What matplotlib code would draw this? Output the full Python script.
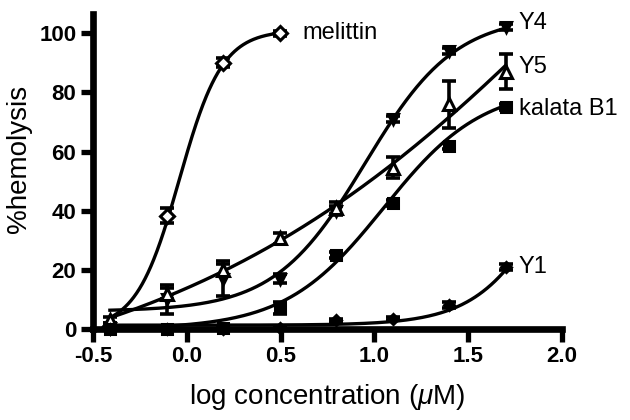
import numpy as np
import matplotlib
matplotlib.use("Agg")
import matplotlib.pyplot as plt

plt.rcParams['font.family'] = ['Liberation Sans', 'DejaVu Sans']
plt.rcParams['mathtext.fontset'] = 'custom'
plt.rcParams['mathtext.it'] = 'Liberation Sans:italic'
plt.rcParams['mathtext.rm'] = 'Liberation Sans'

# log concentration (uM)
x = [-0.41, -0.107, 0.194, 0.495, 0.796, 1.097, 1.398, 1.699]

melittin_x = [-0.41, -0.107, 0.194, 0.495]
melittin = [1, 38.3, 90, 100]
melittin_err = [1, 2.5, 1.5, 0.8]

Y4 = [0.5, 10, 17, 17, 40, 71, 94, 102]
Y4_err = [1, 5, 6, 1.5, 1.5, 1, 1, 1]

Y5 = [3, 12, 20, 30.6, 41, 54.5, 76, 87]
Y5_err = [1, 2, 2, 2, 2, 3.5, 8, 6]

kalata = [0, 0, 0.5, 7, 25, 42.5, 62, 75]
kalata_err = [0.5, 0.5, 0.5, 2, 1, 1, 1, 1]

Y1 = [0, 0, 0, 0.5, 3, 3.5, 8, 21]
Y1_err = [0.3, 0.3, 0.3, 0.3, 0.5, 0.5, 1, 1]

# four-parameter logistic fit parameters: bottom, top, logEC50, hill slope
fit_params = {
    'melittin': (0, 101, -0.04, 3.8),
    'Y4': (6, 106, 0.95, 1.8),
    'Y5': (-25.3, 307.2, 2.5, 0.35),
    'kalata B1': (0, 82, 1.05, 1.65),
    'Y1': (1.3, 100, 2.0, 2.1),
}

def hill(xx, b, t, c, h):
    return b + (t - b) / (1 + 10 ** ((c - xx) * h))

fig = plt.figure(figsize=(6.3, 4.2), dpi=100)
ax = fig.add_axes([93/630, 1 - 329/420, (562-93)/630, (329-14)/420])

series = [
    ('melittin', melittin_x, melittin, melittin_err, 'D', 'white', 7),
    ('Y4', x, Y4, Y4_err, 'v', 'black', 7.5),
    ('Y5', x, Y5, Y5_err, '^', 'white', 8.5),
    ('kalata B1', x, kalata, kalata_err, 's', 'black', 6.5),
    ('Y1', x, Y1, Y1_err, 'D', 'black', 5.5),
]

for name, xs, ys, es, mk, fc, ms in series:
    xx = np.linspace(min(xs), max(xs), 300)
    ax.plot(xx, hill(xx, *fit_params[name]), color='black', lw=2.4,
            clip_on=False, zorder=2)
    ax.errorbar(xs, ys, yerr=es, fmt='none', ecolor='black', elinewidth=2.6,
                capsize=5, capthick=2.6, clip_on=False, zorder=3)
    ax.plot(xs, ys, linestyle='none', marker=mk, markersize=ms,
            markerfacecolor=fc, markeredgecolor='black', markeredgewidth=2.2,
            clip_on=False, zorder=4)

# series labels
lab_fs = 17
ax.text(melittin_x[-1] + 0.12, melittin[-1], 'melittin', fontsize=lab_fs,
        va='center', ha='left')
ax.text(x[-1] + 0.07, Y4[-1] + 1.5, 'Y4', fontsize=lab_fs, va='center', ha='left')
ax.text(x[-1] + 0.07, Y5[-1] + 1.5, 'Y5', fontsize=lab_fs, va='center', ha='left')
ax.text(x[-1] + 0.07, kalata[-1] - 0.5, 'kalata B1', fontsize=lab_fs, va='center', ha='left')
ax.text(x[-1] + 0.07, Y1[-1], 'Y1', fontsize=lab_fs, va='center', ha='left')

xticks = [-0.5, 0.0, 0.5, 1.0, 1.5, 2.0]
yticks = [0, 20, 40, 60, 80, 100]
ax.set_xlim(-0.5, 2.0)
ax.set_ylim(0, 106.5)
ax.set_xticks(xticks)
ax.set_xticklabels([f'{v:.1f}' for v in xticks], fontweight='bold', fontsize=16)
ax.set_yticks(yticks)
ax.set_yticklabels([str(v) for v in yticks], fontweight='bold', fontsize=16)

for s in ['top', 'right']:
    ax.spines[s].set_visible(False)
for s in ['left', 'bottom']:
    ax.spines[s].set_linewidth(4.8)
ax.tick_params(axis='both', direction='out', length=9, width=3.8, pad=3)

ax.set_xlabel(r'log concentration ($\mu$M)', fontsize=20, labelpad=11)
ax.set_ylabel('%hemolysis', fontsize=20)
ax.yaxis.set_label_coords(-0.13, 0.54)

fig.savefig('out.png', dpi=100)
